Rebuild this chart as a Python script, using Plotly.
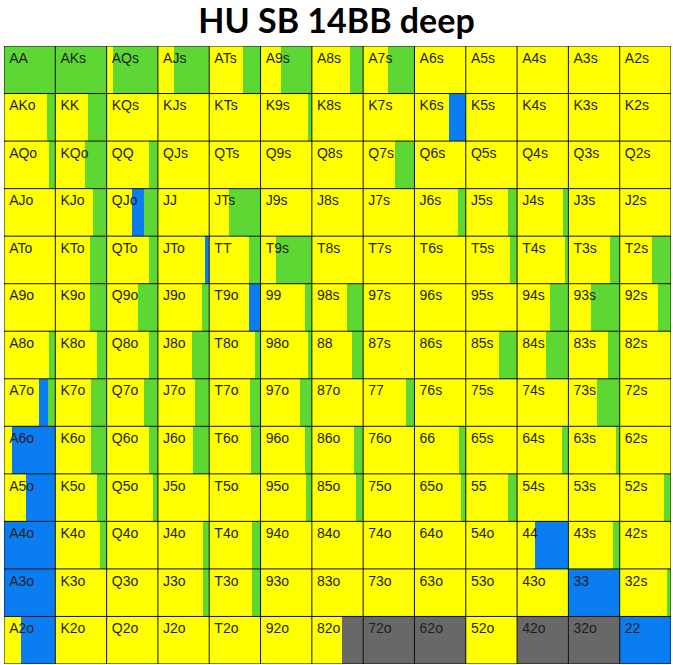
import plotly.graph_objects as go

RANKS = ["A", "K", "Q", "J", "T", "9", "8", "7", "6", "5", "4", "3", "2"]

# share of each hand (row = first rank, col = second rank); yellow fills the rest
GREEN = [
    [1.00, 1.00, 0.88, 0.69, 0.34, 0.60, 0.25, 0.51, 0, 0, 0, 0, 0],
    [0.17, 0.36, 0, 0, 0, 0.08, 0, 0, 0, 0, 0, 0, 0],
    [0.12, 0.42, 0.17, 0, 0, 0, 0, 0.38, 0, 0, 0, 0, 0],
    [0, 0.27, 0.27, 0, 0.61, 0, 0, 0, 0.15, 0.17, 0.10, 0, 0],
    [0, 0.33, 0.17, 0, 0.23, 0.69, 0, 0, 0, 0.14, 0.06, 0.19, 0.38],
    [0, 0.32, 0.38, 0.15, 0, 0.14, 0.32, 0, 0, 0, 0.35, 0.55, 0.26],
    [0.12, 0.18, 0.17, 0.34, 0.10, 0.07, 0.21, 0, 0, 0.36, 0.44, 0.23, 0],
    [0.15, 0.30, 0.28, 0.27, 0.20, 0.24, 0, 0.16, 0, 0, 0, 0.44, 0],
    [0, 0.30, 0.17, 0.31, 0.18, 0.13, 0.18, 0, 0.13, 0, 0.12, 0.08, 0],
    [0, 0.18, 0.09, 0, 0, 0.12, 0.14, 0, 0.10, 0.17, 0, 0, 0.13],
    [0, 0.12, 0, 0.13, 0.16, 0, 0, 0, 0, 0, 0, 0.13, 0],
    [0, 0, 0, 0.13, 0.16, 0, 0, 0, 0, 0, 0, 0, 0.08],
    [0, 0, 0, 0, 0, 0, 0, 0, 0, 0, 0, 0, 0],
]

BLUE = [
    [0, 0, 0, 0, 0, 0, 0, 0, 0, 0, 0, 0, 0],
    [0, 0, 0, 0, 0, 0, 0, 0, 0.33, 0, 0, 0, 0],
    [0, 0, 0, 0, 0, 0, 0, 0, 0, 0, 0, 0, 0],
    [0, 0, 0.24, 0, 0, 0, 0, 0, 0, 0, 0, 0, 0],
    [0, 0, 0, 0.08, 0, 0, 0, 0, 0, 0, 0, 0, 0],
    [0, 0, 0, 0, 0.22, 0, 0, 0, 0, 0, 0, 0, 0],
    [0, 0, 0, 0, 0, 0, 0, 0, 0, 0, 0, 0, 0],
    [0.16, 0, 0, 0, 0, 0, 0, 0, 0, 0, 0, 0, 0],
    [0.85, 0, 0, 0, 0, 0, 0, 0, 0, 0, 0, 0, 0],
    [0.57, 0, 0, 0, 0, 0, 0, 0, 0, 0, 0, 0, 0],
    [1.00, 0, 0, 0, 0, 0, 0, 0, 0, 0, 0.66, 0, 0],
    [1.00, 0, 0, 0, 0, 0, 0, 0, 0, 0, 0, 1.00, 0],
    [0.67, 0, 0, 0, 0, 0, 0, 0, 0, 0, 0, 0, 1.00],
]

GRAY = [[0] * 13 for _ in range(12)] + [
    [0, 0, 0, 0, 0, 0, 0.42, 1.00, 1.00, 0, 1.00, 1.00, 0],
]

COLORS = {"yellow": "#FFFF00", "blue": "#0B7DF2", "green": "#5CD733", "gray": "#686868"}


def hand(r, c):
    if r == c:
        return RANKS[r] + RANKS[c]
    if c > r:
        return RANKS[r] + RANKS[c] + "s"
    return RANKS[c] + RANKS[r] + "o"


# build segments per colour, left to right: yellow, blue, green, gray
segs = {k: {"y": [], "x": [], "base": []} for k in COLORS}
for r in range(13):
    for c in range(13):
        g, b, gr = GREEN[r][c], BLUE[r][c], GRAY[r][c]
        yel = max(0.0, 1 - g - b - gr)
        start = c
        for name, w in [("yellow", yel), ("blue", b), ("green", g), ("gray", gr)]:
            if w > 0:
                segs[name]["y"].append(r + 0.5)
                segs[name]["x"].append(w)
                segs[name]["base"].append(start)
                start += w

fig = go.Figure()
for name, s in segs.items():
    fig.add_trace(go.Bar(
        orientation="h", y=s["y"], x=s["x"], base=s["base"], width=1,
        marker=dict(color=COLORS[name], line=dict(width=0)),
        hoverinfo="skip", showlegend=False,
    ))

# grid lines
gx, gy = [], []
for i in range(14):
    gx += [i, i, None]
    gy += [0, 13, None]
    gx += [0, 13, None]
    gy += [i, i, None]
fig.add_trace(go.Scatter(x=gx, y=gy, mode="lines", line=dict(color="#111111", width=1),
                         hoverinfo="skip", showlegend=False))

# hand labels
tx, ty, tt = [], [], []
for r in range(13):
    for c in range(13):
        tx.append(c + 0.1)
        ty.append(r + 0.13)
        tt.append(hand(r, c))
fig.add_trace(go.Scatter(
    x=tx, y=ty, text=tt, mode="text", textposition="bottom right",
    textfont=dict(family="Liberation Sans", size=14, color="#1e1e1e"),
    hoverinfo="skip", showlegend=False,
))

fig.update_layout(
    width=673, height=665, autosize=False,
    margin=dict(l=4, r=2, t=46, b=1),
    barmode="overlay", bargap=0,
    plot_bgcolor="white", paper_bgcolor="white",
    title=dict(text="<b>HU SB 14BB deep</b>", x=0.5, xanchor="center", y=0.968, yanchor="middle",
               font=dict(family="Lato", size=34, color="#000000")),
    xaxis=dict(range=[0, 13], visible=False, fixedrange=True),
    yaxis=dict(range=[13, 0], visible=False, fixedrange=True),
)

fig.write_html("out.html", config={"displayModeBar": False},
               post_script="document.body.style.margin='0';")
